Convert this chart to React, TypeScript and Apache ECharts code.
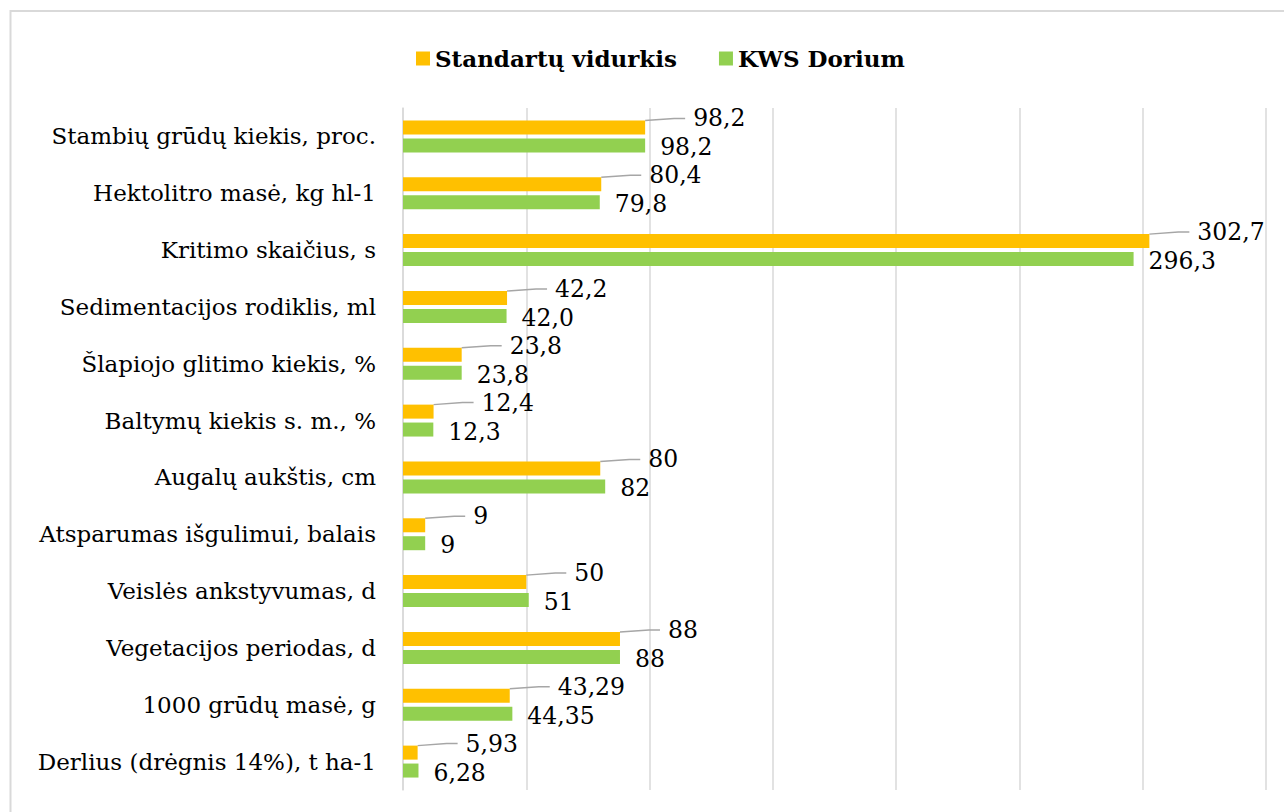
import React, { useEffect, useRef } from "react";
import * as echarts from "echarts";

const categories = [
  "Stambių grūdų kiekis, proc.",
  "Hektolitro masė, kg hl-1",
  "Kritimo skaičius, s",
  "Sedimentacijos rodiklis, ml",
  "Šlapiojo glitimo kiekis, %",
  "Baltymų kiekis s. m., %",
  "Augalų aukštis, cm",
  "Atsparumas išgulimui, balais",
  "Veislės ankstyvumas, d",
  "Vegetacijos periodas, d",
  "1000 grūdų masė, g",
  "Derlius (drėgnis 14%), t ha-1",
];

const standartuVidurkis = [98.2, 80.4, 302.7, 42.2, 23.8, 12.4, 80, 9, 50, 88, 43.29, 5.93];
const kwsDorium = [98.2, 79.8, 296.3, 42.0, 23.8, 12.3, 82, 9, 51, 88, 44.35, 6.28];
const labelDecimals = [1, 1, 1, 1, 1, 1, 0, 0, 0, 0, 2, 2];

const xMin = 0;
const xMax = 350;
const xInterval = 50;

const seriesNames = ["Standartų vidurkis", "KWS Dorium"];
const seriesColors = ["#FFC000", "#92D050"];

export default function App() {
  const ref = useRef<HTMLDivElement>(null);

  useEffect(() => {
    if (!ref.current) return;
    const chart = echarts.init(ref.current, null, { renderer: "svg" });
    const font = "DejaVu Serif";
    const fmt = (p: any) =>
      Number(p.value).toFixed(labelDecimals[p.dataIndex]).replace(".", ",");

    chart.setOption({
      animation: false,
      backgroundColor: "#ffffff",
      textStyle: { fontFamily: font },
      graphic: [
        {
          type: "rect",
          silent: true,
          z: -10,
          shape: { x: 10.5, y: 11, width: 1300, height: 830 },
          style: { fill: "none", stroke: "#D9D9D9", lineWidth: 2 },
        },
      ],
      legend: {
        left: 411,
        top: 42,
        icon: "rect",
        itemWidth: 14,
        itemHeight: 14,
        itemGap: 42,
        textStyle: {
          fontFamily: font,
          fontSize: 23,
          fontWeight: "bold",
          color: "#000",
        },
        data: seriesNames,
      },
      grid: { left: 403, right: 18, top: 108, bottom: 22 },
      xAxis: {
        type: "value",
        min: xMin,
        max: xMax,
        interval: xInterval,
        axisLabel: { show: false },
        axisTick: { show: false },
        axisLine: { show: false },
        splitLine: { show: true, lineStyle: { color: "#D9D9D9", width: 1.5 } },
      },
      yAxis: {
        type: "category",
        data: categories,
        inverse: true,
        axisTick: { show: false },
        axisLine: { show: true, lineStyle: { color: "#D9D9D9", width: 1.5 } },
        axisLabel: {
          fontFamily: font,
          fontSize: 23,
          color: "#000",
          margin: 27,
        },
      },
      series: [
        {
          name: seriesNames[0],
          type: "bar",
          data: standartuVidurkis,
          barWidth: 14,
          barGap: "28%",
          itemStyle: { color: seriesColors[0] },
          label: {
            show: true,
            position: "right",
            distance: 5,
            padding: [0, 0, 0, 8],
            backgroundColor: "rgba(255,255,255,0)",
            formatter: fmt,
            fontFamily: font,
            fontSize: 23.5,
            color: "#000",
          },
          labelLayout: { dx: 35, dy: -9 },
          labelLine: {
            show: true,
            length2: 11,
            lineStyle: { color: "#A6A6A6", width: 1.5 },
          },
        },
        {
          name: seriesNames[1],
          type: "bar",
          data: kwsDorium,
          barWidth: 14,
          barGap: "28%",
          itemStyle: { color: seriesColors[1] },
          label: {
            show: true,
            position: "right",
            distance: 15,
            formatter: fmt,
            fontFamily: font,
            fontSize: 23.5,
            color: "#000",
          },
          labelLayout: { dy: 2 },
        },
      ],
    });

    return () => chart.dispose();
  }, []);

  return (
    <div
      ref={ref}
      style={{ position: "fixed", left: 0, top: 0, width: 1284, height: 812 }}
    />
  );
}
